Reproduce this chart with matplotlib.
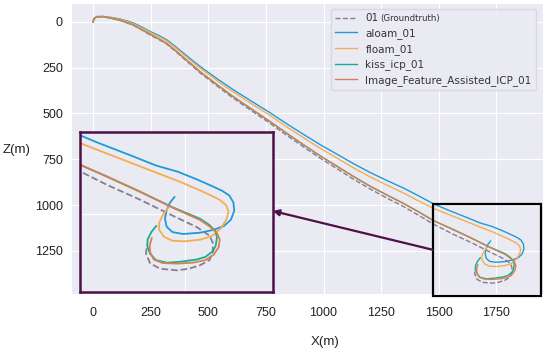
import matplotlib
matplotlib.use("Agg")
import matplotlib.pyplot as plt
from matplotlib.patches import Rectangle
from matplotlib.transforms import offset_copy

# trajectories (X, Z) in metres
gt_x = [0, 3, 16, 44, 80, 117, 145, 175, 210, 247, 285, 320, 355, 392, 430, 464, 540, 608, 690, 768, 840, 913, 985, 1058, 1130, 1202, 1275, 1347, 1410, 1477,
        1560, 1641, 1720, 1780, 1810, 1818, 1818, 1810, 1787, 1760, 1731, 1690, 1666, 1656, 1658]
gt_z = [0, -18, -29, -28, -20, -8, 4, 19, 43, 71, 96, 122, 158, 199, 240, 278, 352, 416, 487, 554, 619, 682, 744, 801, 859, 912, 962, 1008, 1054, 1104,
        1158, 1205, 1255, 1292, 1318, 1340, 1370, 1395, 1411, 1422, 1427, 1422, 1405, 1375, 1353]

aloam_x = [0, 3, 16, 44, 80, 117, 145, 175, 210, 247, 285, 320, 355, 392, 430, 464, 540, 608, 690, 768, 840, 913, 985, 1058, 1130, 1202, 1275, 1347, 1410, 1477,
           1540, 1620, 1680, 1734, 1780, 1815, 1840, 1858, 1868, 1870, 1862, 1845, 1820, 1787, 1746, 1720, 1706, 1702, 1706, 1714, 1725]
aloam_z = [0, -18, -29, -30, -24, -16, -6, 6, 27, 52, 74, 98, 132, 170, 209, 243, 312, 370, 435, 496, 556, 614, 670, 722, 774, 822, 866, 907, 948, 993,
           1027, 1067, 1098, 1118, 1142, 1162, 1177, 1192, 1214, 1240, 1268, 1288, 1300, 1309, 1313, 1307, 1290, 1265, 1238, 1215, 1197]

floam_x = [0, 3, 16, 44, 80, 117, 145, 175, 210, 247, 285, 320, 355, 392, 430, 464, 540, 608, 690, 768, 840, 913, 985, 1058, 1130, 1202, 1275, 1347, 1410, 1477,
           1540, 1620, 1680, 1734, 1780, 1815, 1835, 1850, 1856, 1852, 1838, 1815, 1787, 1750, 1720, 1700, 1688, 1688, 1696, 1709]
floam_z = [0, -18, -29, -30, -23, -14, -3, 10, 32, 57, 80, 104, 139, 178, 217, 252, 323, 382, 449, 511, 573, 632, 690, 743, 797, 846, 891, 934, 976, 1018,
           1050, 1090, 1120, 1147, 1172, 1193, 1206, 1222, 1242, 1265, 1295, 1320, 1331, 1336, 1334, 1322, 1300, 1278, 1255, 1232]

kiss_x = [0, 3, 16, 44, 80, 117, 145, 175, 210, 247, 285, 320, 355, 392, 430, 464, 540, 608, 690, 768, 840, 913, 985, 1058, 1130, 1202, 1275, 1347, 1410, 1477,
          1560, 1641, 1720, 1787, 1810, 1825, 1828, 1825, 1818, 1800, 1779, 1740, 1707, 1680, 1666, 1659, 1660, 1670, 1681]
kiss_z = [0, -18, -29, -29, -20, -9, 3, 17, 41, 67, 92, 118, 154, 194, 234, 272, 345, 408, 478, 544, 608, 671, 731, 788, 844, 897, 945, 991, 1035, 1085,
          1132, 1180, 1229, 1265, 1285, 1305, 1325, 1350, 1367, 1385, 1393, 1400, 1403, 1395, 1375, 1351, 1330, 1305, 1288]

ifa_x = [0, 3, 16, 44, 80, 117, 145, 175, 210, 247, 285, 320, 355, 392, 430, 464, 540, 608, 690, 768, 840, 913, 985, 1058, 1130, 1202, 1275, 1347, 1410, 1477,
         1560, 1641, 1720, 1787, 1811, 1828, 1835, 1832, 1820, 1800, 1770, 1730, 1696, 1675, 1666, 1665, 1670]
ifa_z = [0, -18, -29, -29, -20, -9, 3, 17, 41, 67, 92, 118, 154, 194, 234, 272, 345, 408, 478, 544, 608, 671, 731, 788, 844, 897, 945, 991, 1035, 1085,
         1132, 1180, 1230, 1269, 1290, 1310, 1330, 1355, 1378, 1395, 1403, 1406, 1404, 1393, 1370, 1348, 1326]

series = [
    ("01", gt_x, gt_z, "#857e92", "--"),
    ("aloam_01", aloam_x, aloam_z, "#1f9ad6", "-"),
    ("floam_01", floam_x, floam_z, "#f5ad55", "-"),
    ("kiss_icp_01", kiss_x, kiss_z, "#17ad95", "-"),
    ("Image_Feature_Assisted_ICP_01", ifa_x, ifa_z, "#d98050", "-"),
]

xticks = [0, 250, 500, 750, 1000, 1250, 1500, 1750]
yticks = [0, 250, 500, 750, 1000, 1250]

bg = "#eaeaf2"
purple = "#4d1048"
tickfont = "Liberation Sans"

fig = plt.figure(figsize=(5.5, 3.48), dpi=100)
ax = fig.add_axes([72/550, 1-294/348, 471/550, 290/348])
ax.set_facecolor(bg)
for s in ax.spines.values():
    s.set_visible(False)
ax.grid(True, color="white", lw=0.8)
ax.set_axisbelow(True)

for name, xs, zs, col, ls in series:
    ax.plot(xs, zs, ls, color=col, lw=1.0, label=name)

ax.set_xlim(-92, 1953)
ax.set_ylim(1486, -98)
ax.set_xticks(xticks)
ax.set_yticks(yticks)
ax.tick_params(length=0, labelsize=9)
ax.tick_params(axis="x", pad=9)
ax.tick_params(axis="y", pad=6.5)
for t in ax.get_xticklabels() + ax.get_yticklabels():
    t.set_fontfamily(tickfont)
    t.set_color("#222222")

ax.set_xlabel("X(m)", fontsize=9.5, family=tickfont, color="#222222")
ax.xaxis.set_label_coords(0.537, -0.145)
ax.set_ylabel("Z(m)", fontsize=9.5, family=tickfont, rotation=0, color="#222222", ha="center", va="center")
ax.yaxis.set_label_coords(-0.117, 0.497)

leg = ax.legend(loc="upper right", bbox_to_anchor=(0.996, 1.0), fontsize=7.5, frameon=True,
                facecolor=bg, edgecolor="#d6d6de", framealpha=0.9, handlelength=2.1,
                labelspacing=0.45, borderpad=0.4, fancybox=True)
for t in leg.get_texts():
    t.set_color("#333333")

# smaller "(Groundtruth)" after the "01" label
fig.canvas.draw()
t0 = leg.get_texts()[0]
bb = t0.get_window_extent()
ax.text(bb.x1 + 2, (bb.y0 + bb.y1) / 2, "(Groundtruth)", transform=None, fontsize=6.2,
        color="#333333", va="center", ha="left", zorder=10)

# zoom box on main axes
ax.add_patch(Rectangle((1476, 993), 468, 502, fill=False, ec="black", lw=1.6, clip_on=False, zorder=5))

# inset
ins = fig.add_axes([80/550, 1-292/348, 193/550, 160/348])
ins.set_facecolor(bg)
ins.grid(True, color="white", lw=0.8)
ins.set_axisbelow(True)
for name, xs, zs, col, ls in series:
    ins.plot(xs, zs, ls, color=col, lw=1.3)
ins.set_xlim(1496, 1964)
ins.set_ylim(1495, 993)
ins.set_xticks([1750])
ins.set_yticks([1250])
ins.tick_params(length=0, labelbottom=False, labelleft=False)
for s in ins.spines.values():
    s.set_color(purple)
    s.set_linewidth(1.8)

ins.annotate("", xy=(1.0, 0.506), xycoords="axes fraction",
             xytext=(1476, 1245), textcoords=ax.transData,
             arrowprops=dict(arrowstyle="-|>,head_length=0.35,head_width=0.18", color=purple, lw=1.6,
                             shrinkA=0, shrinkB=0),
             annotation_clip=False)

fig.savefig("out.png", dpi=100, facecolor="white")
